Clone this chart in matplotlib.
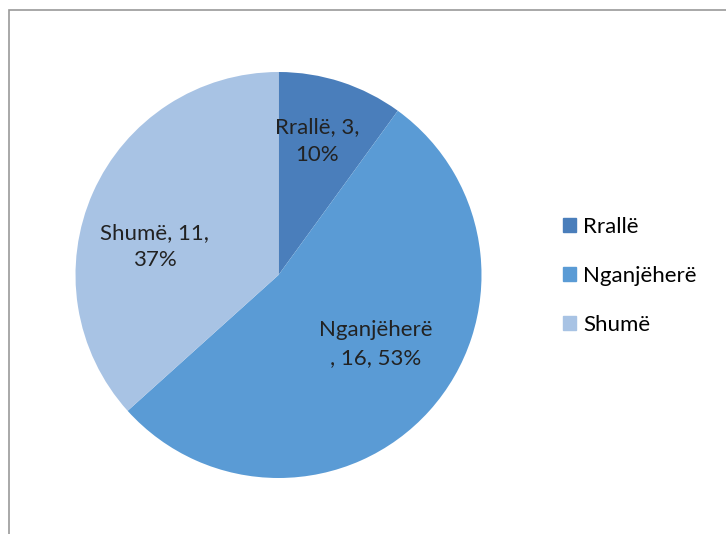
import matplotlib.pyplot as plt
import matplotlib.patches as mpatches

labels = ['Rrallë', 'Nganjëherë', 'Shumë']
values = [3, 16, 11]
percents = ['10%', '53%', '37%']
colors = ['#4a7ebb', '#5a9bd5', '#a8c3e4']

plt.rcParams['font.family'] = ['Lato', 'DejaVu Sans']

fig = plt.figure(figsize=(7.26, 5.34), dpi=100)

# outer chart border (runs off the right/bottom edge)
fig.patches.append(mpatches.Rectangle((9 / 726, -0.1), 1.0, (534 - 10) / 534 + 0.1,
                                      transform=fig.transFigure, fill=False,
                                      edgecolor='#999999', lw=1.2))

ax = fig.add_axes([75.5 / 726, 56 / 534, 406 / 726, 406 / 534])
wedges, _ = ax.pie(values, colors=colors, startangle=90, counterclock=False,
                   radius=1.0, wedgeprops=dict(linewidth=0))
ax.set_xlim(-1, 1)
ax.set_ylim(-1, 1)
ax.set_aspect('equal')
ax.axis('off')

# data labels: name, value, percent
txt = [f'{labels[0]}, {values[0]},\n{percents[0]}',
       f'{labels[1]}\n, {values[1]}, {percents[1]}',
       f'{labels[2]}, {values[2]},\n{percents[2]}']
pos = [(0.19, 0.66), (0.48, -0.34), (-0.61, 0.14)]
for t, (x, y) in zip(txt, pos):
    ax.text(x, y, t, ha='center', va='center', fontsize=16, color='#222222',
            linespacing=1.45)

handles = [mpatches.Patch(color=c) for c in colors]
fig.legend(handles, labels, loc='center left', bbox_to_anchor=(543 / 726, 1 - 276 / 534),
           frameon=False, fontsize=16, handlelength=0.6, handleheight=0.6,
           handletextpad=0.3, labelspacing=1.3)

fig.savefig('out.png', dpi=100)
